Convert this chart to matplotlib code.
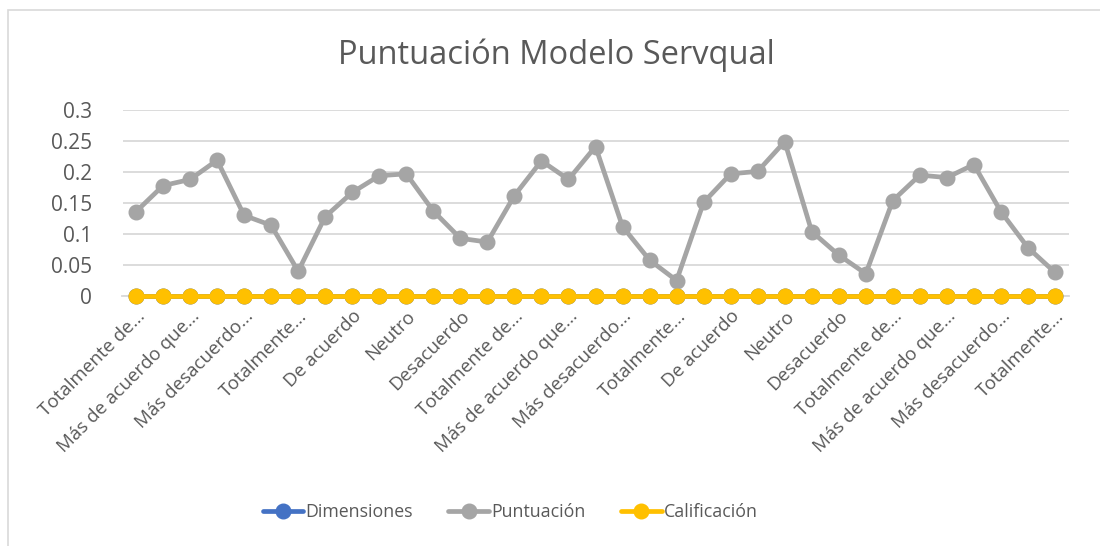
import numpy as np
import matplotlib.pyplot as plt
from matplotlib.patches import Rectangle

plt.rcParams['font.family'] = ['Open Sans', 'DejaVu Sans']

# 7 answer options x 5 dimensions = 35 categories
n_cat = 35
tick_labels = ['Totalmente de...', 'Más de acuerdo que...', 'Más desacuerdo...', 'Totalmente...',
               'De acuerdo', 'Neutro', 'Desacuerdo',
               'Totalmente de...', 'Más de acuerdo que...', 'Más desacuerdo...', 'Totalmente...',
               'De acuerdo', 'Neutro', 'Desacuerdo',
               'Totalmente de...', 'Más de acuerdo que...', 'Más desacuerdo...', 'Totalmente...']

dimensiones = [0] * n_cat
puntuacion = [0.136, 0.178, 0.188, 0.219, 0.130, 0.114, 0.040,
              0.128, 0.167, 0.194, 0.197, 0.137, 0.093, 0.087,
              0.162, 0.218, 0.188, 0.241, 0.112, 0.058, 0.025,
              0.151, 0.197, 0.201, 0.249, 0.104, 0.066, 0.036,
              0.154, 0.195, 0.191, 0.212, 0.136, 0.078, 0.038]
calificacion = [0] * n_cat

txt = '#595959'
grid = '#D9D9D9'

fig = plt.figure(figsize=(11, 5.46), dpi=100)
ax = fig.add_axes([122.5/1100, 1-296/546, 946/1100, 186/546])

x = np.arange(n_cat)
kw = dict(lw=3.4, marker='o', ms=10.5, solid_capstyle='round', clip_on=False)
ax.plot(x, dimensiones, color='#4472C4', label='Dimensiones', **kw)
ax.plot(x, puntuacion, color='#A5A5A5', label='Puntuación', **kw)
ax.plot(x, calificacion, color='#FFC000', label='Calificación', **kw)

ax.set_xlim(-0.5, n_cat - 0.5)
ax.set_ylim(0, 0.3)
ax.set_yticks(np.arange(0, 0.31, 0.05))
ax.set_yticklabels(['0', '0.05', '0.1', '0.15', '0.2', '0.25', '0.3'])
ax.grid(axis='y', color=grid, lw=1.3)
ax.set_axisbelow(True)
for s in ['top', 'right', 'left']:
    ax.spines[s].set_visible(False)
ax.spines['bottom'].set_color(grid)
ax.spines['bottom'].set_linewidth(1.3)
ax.spines['bottom'].set_zorder(0.5)

ax.set_xticks(np.arange(0, n_cat, 2))
ax.set_xticklabels(tick_labels, rotation=45, ha='right', rotation_mode='anchor')
ax.tick_params(axis='x', length=0, pad=8, labelsize=13.5, labelcolor=txt)
ax.tick_params(axis='y', length=0, pad=22, labelsize=15, labelcolor=txt)

fig.text(556/1100, 1-55/546, 'Puntuación Modelo Servqual', ha='center', va='center',
         fontsize=23.5, color=txt)

fig.legend(loc='center', bbox_to_anchor=(510/1100, 1-512/546), ncol=3, frameon=False,
           fontsize=12.8, labelcolor=txt, handlelength=2.3, handletextpad=0.1,
           columnspacing=2.0)

fig.patches.append(Rectangle((8/1100, -0.1), 1.2, 1.1 - 10/546, transform=fig.transFigure,
                             fill=False, edgecolor='#D9D9D9', lw=1.2))

fig.savefig('out.png', dpi=100)
